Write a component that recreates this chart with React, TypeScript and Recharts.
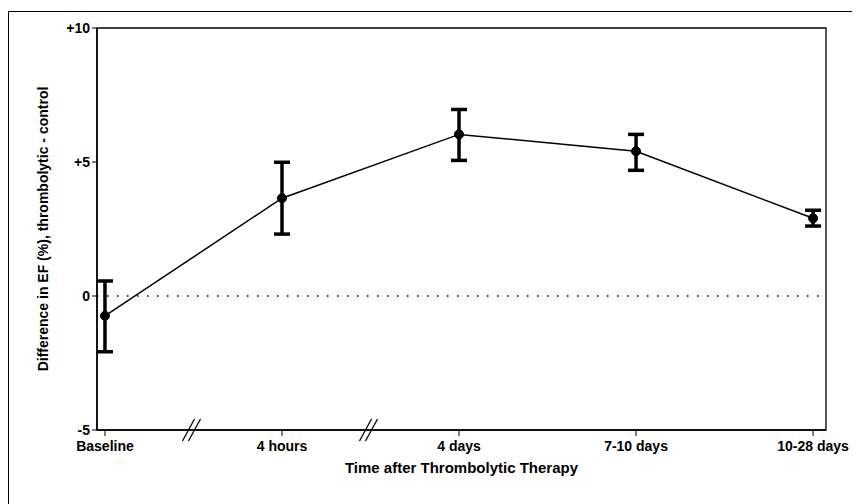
import * as React from 'react';
import {
    ComposedChart,
    Line,
    ErrorBar,
    XAxis,
    YAxis,
    ReferenceLine,
    ReferenceArea,
    ReferenceDot,
    Label
} from 'recharts';

const categories = ['Baseline', '4 hours', '4 days', '7-10 days', '10-28 days'];
const means = [-0.74, 3.65, 6.03, 5.4, 2.9];
const upper = [0.56, 4.99, 6.96, 6.03, 3.2];
const lower = [-2.08, 2.31, 5.06, 4.69, 2.61];
const yTicks = [-5, 0, 5, 10];
const breaks = [0.5, 1.5];

const font = "'Liberation Sans', Arial, sans-serif";

const chart_data = categories.map((name, i) => ({
    x: i,
    name,
    ef: means[i],
    err: [means[i] - lower[i], upper[i] - means[i]]
}));

const fmtY = (v: number) => (v > 0 ? '+' + v : String(v));

// the "//" axis break marks
const BreakMark = (props: any) => {
    const { cx, cy } = props;
    if (cx == null || cy == null) return null;
    return (
        <g stroke='#000' strokeWidth={1.3}>
            <line x1={cx - 11} y1={cy + 11} x2={cx + 1} y2={cy - 11} />
            <line x1={cx - 5} y1={cy + 11} x2={cx + 7} y2={cy - 11} />
        </g>
    );
};

export default function App() {
    return (
        <div style={{ position: 'relative', width: 852, height: 496 }}>
            <div
                style={{
                    position: 'absolute',
                    top: 3,
                    left: 0,
                    width: 852,
                    height: 493,
                    borderTop: '1.5px solid #000',
                    borderLeft: '1.5px solid #000',
                    boxSizing: 'border-box'
                }}
            />
            <ComposedChart
                width={852}
                height={496}
                data={chart_data}
                margin={{ top: 20, right: 34, bottom: 44, left: 29 }}
                style={{ position: 'absolute', top: 0, left: 0 }}
            >
                <ReferenceArea
                    x1={-0.045}
                    x2={4.073}
                    y1={-5}
                    y2={10}
                    fill='none'
                    stroke='#000'
                    strokeWidth={1.3}
                />
                <XAxis
                    type='number'
                    dataKey='x'
                    domain={[-0.045, 4.073]}
                    ticks={[0, 1, 2, 3, 4]}
                    tickFormatter={(v: number) => categories[v]}
                    allowDataOverflow
                    height={30}
                    tickSize={6}
                    axisLine={{ stroke: '#000', strokeWidth: 1.5 }}
                    tickLine={{ stroke: '#000' }}
                    tick={{ fill: '#000', fontSize: 14, fontWeight: 'bold', fontFamily: font, dy: 3 }}
                >
                    <Label
                        value='Time after Thrombolytic Therapy'
                        position='insideBottom'
                        offset={-13}
                        style={{ fill: '#000', fontSize: 15, fontWeight: 'bold', fontFamily: font }}
                    />
                </XAxis>
                <YAxis
                    type='number'
                    domain={[-5, 10]}
                    ticks={yTicks}
                    tickFormatter={fmtY}
                    width={60}
                    tickSize={5}
                    axisLine={{ stroke: '#000', strokeWidth: 1.5 }}
                    tickLine={{ stroke: '#000' }}
                    tick={{ fill: '#000', fontSize: 14, fontWeight: 'bold', fontFamily: font }}
                >
                    <Label
                        value='Difference in EF (%), thrombolytic - control'
                        angle={-90}
                        position='insideLeft'
                        offset={6}
                        style={{ textAnchor: 'middle', fill: '#000', fontSize: 14, fontWeight: 'bold', fontFamily: font }}
                    />
                </YAxis>
                <ReferenceLine y={0} stroke='#000' strokeWidth={1.5} strokeDasharray='1.5 8.5' />
                {breaks.map((b) => (
                    <ReferenceDot key={b} x={b} y={-5} r={0} shape={BreakMark} ifOverflow='visible' />
                ))}
                <Line
                    type='linear'
                    dataKey='ef'
                    stroke='#000'
                    strokeWidth={1.5}
                    dot={{ r: 4.5, fill: '#000', stroke: '#000', strokeWidth: 1 }}
                    isAnimationActive={false}
                >
                    <ErrorBar dataKey='err' direction='y' width={8} stroke='#000' strokeWidth={3.5} />
                </Line>
            </ComposedChart>
        </div>
    );
}
